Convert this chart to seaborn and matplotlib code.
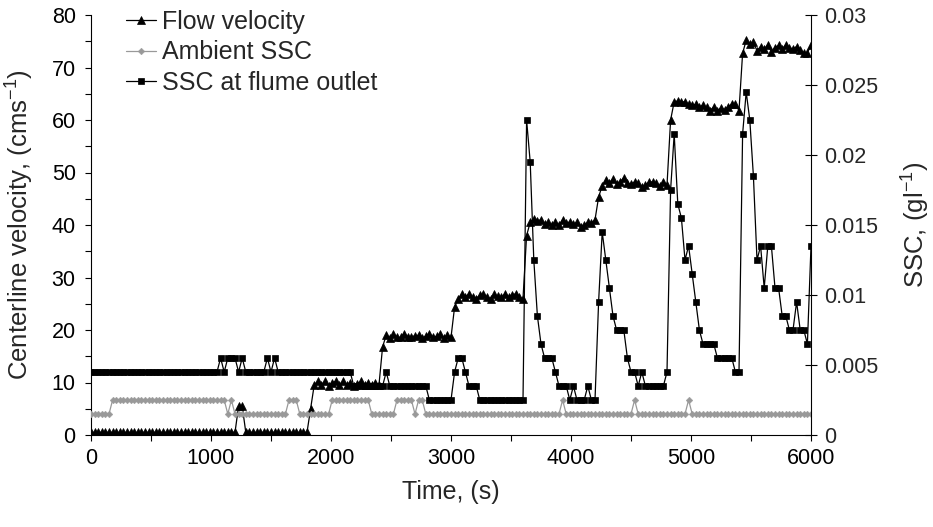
import numpy as np
import pandas as pd
import matplotlib
matplotlib.use("Agg")
import matplotlib.pyplot as plt
import seaborn as sns
from matplotlib.ticker import MultipleLocator, FuncFormatter

time_s = list(range(0, 6001, 30))

velocity = [
    0.5, 0.5, 0.5, 0.5, 0.5, 0.5, 0.5, 0.5, 0.5, 0.5, 0.5, 0.5, 0.5, 0.5, 0.5, 0.5, 0.5, 0.5, 0.5, 0.5,
    0.5, 0.5, 0.5, 0.5, 0.5, 0.5, 0.5, 0.5, 0.5, 0.5, 0.5, 0.5, 0.5, 0.5, 0.5, 0.5, 0.5, 0.5, 0.5, 0.5,
    0.5, 5.5, 5.5, 0.5,
    0.5, 0.5, 0.5, 0.5, 0.5, 0.5, 0.5, 0.5, 0.5, 0.5, 0.5, 0.5, 0.5, 0.5, 0.5, 0.5, 0.5,
    5.0, 9.5,
    10.2, 9.6, 10.2, 9.4, 10.0, 10.2, 9.5, 10.2, 9.6, 10.0, 9.4, 9.8, 10.2, 9.6, 10.0, 9.5, 10.0, 9.6,
    16.8,
    19.0, 18.5, 19.2, 18.6, 18.6, 19.3, 18.7, 18.7, 18.9, 19.0, 18.5, 18.8, 19.3, 18.6, 18.8, 19.2, 18.5, 19.0, 18.6,
    24.4,
    26.0, 26.8, 26.3, 26.9, 26.2, 26.0, 26.6, 26.9, 26.2, 26.0, 26.8, 26.4, 26.2, 26.9, 26.3, 26.7, 26.9, 26.2, 26.0,
    38.0,
    40.5, 41.2, 40.8, 41.0, 40.2, 40.5, 40.0, 40.5, 40.0, 41.0, 40.3, 40.6, 40.2, 40.5, 39.6, 40.0, 40.5, 40.3, 41.0,
    45.3,
    47.5, 48.5, 48.0, 48.8, 47.8, 48.2, 49.0, 48.0, 47.8, 48.2, 48.0, 47.2, 47.6, 48.2, 48.2, 48.0, 47.5, 48.2, 47.6,
    60.0,
    63.5, 63.6, 63.4, 63.5, 63.0, 62.8, 63.0, 62.5, 62.8, 62.4, 61.8, 62.5, 61.8, 62.3, 62.0, 62.5, 63.0, 63.0, 61.8,
    72.7,
    75.2, 74.5, 74.8, 73.2, 74.0, 73.5, 74.3, 73.0, 73.8, 74.2, 73.5, 74.3, 73.8, 73.5, 74.0, 73.3, 72.8, 72.8, 74.3,
]

ambient_ssc = (
    [0.0015] * 6 + [0.0025] * 32 + [0.0015, 0.0025] + [0.0015] * 15 + [0.0025] * 3
    + [0.0015] * 9 + [0.0025] * 11 + [0.0015] * 7 + [0.0025] * 5 + [0.0015] + [0.0025] * 2
    + [0.0015] * 38 + [0.0025] + [0.0015] * 19 + [0.0025] + [0.0015] * 14 + [0.0025]
    + [0.0015] * 34
)

outlet_ssc = [
    0.0045, 0.0045, 0.0045, 0.0045, 0.0045, 0.0045, 0.0045, 0.0045, 0.0045, 0.0045, 0.0045, 0.0045,
    0.0045, 0.0045, 0.0045, 0.0045, 0.0045, 0.0045, 0.0045, 0.0045, 0.0045, 0.0045, 0.0045, 0.0045,
    0.0045, 0.0045, 0.0045, 0.0045, 0.0045, 0.0045, 0.0045, 0.0045, 0.0045, 0.0045, 0.0045, 0.0045,
    0.0055, 0.0045, 0.0055, 0.0055, 0.0055, 0.0045, 0.0055, 0.0045,
    0.0045, 0.0045, 0.0045, 0.0045, 0.0045,
    0.0055, 0.0045, 0.0055,
    0.0045, 0.0045, 0.0045, 0.0045, 0.0045, 0.0045, 0.0045, 0.0045, 0.0045, 0.0045, 0.0045,
    0.0045, 0.0045, 0.0045, 0.0045, 0.0045, 0.0045, 0.0045, 0.0045, 0.0045, 0.0045,
    0.0035, 0.0035, 0.0035, 0.0035, 0.0035, 0.0035, 0.0035, 0.0035,
    0.0035, 0.0045,
    0.0035, 0.0035, 0.0035, 0.0035, 0.0035, 0.0035, 0.0035, 0.0035, 0.0035, 0.0035, 0.0035,
    0.0025, 0.0025, 0.0025, 0.0025, 0.0025, 0.0025, 0.0025,
    0.0045, 0.0055, 0.0055, 0.0045, 0.0035, 0.0035, 0.0035,
    0.0025, 0.0025, 0.0025, 0.0025, 0.0025, 0.0025, 0.0025, 0.0025, 0.0025, 0.0025, 0.0025, 0.0025, 0.0025,
    0.0225, 0.0195, 0.0125, 0.0085, 0.0065, 0.0055, 0.0055, 0.0055, 0.0045,
    0.0035, 0.0035, 0.0035, 0.0025, 0.0035, 0.0025, 0.0025, 0.0025, 0.0035, 0.0025, 0.0025,
    0.0095, 0.0145, 0.0125, 0.0105, 0.0085, 0.0075, 0.0075, 0.0075, 0.0055, 0.0045, 0.0045,
    0.0035, 0.0045, 0.0035, 0.0035, 0.0035, 0.0035, 0.0035, 0.0035, 0.0045,
    0.0175, 0.0215, 0.0165, 0.0155, 0.0125, 0.0135, 0.0115, 0.0095, 0.0075,
    0.0065, 0.0065, 0.0065, 0.0065, 0.0055, 0.0055, 0.0055, 0.0055, 0.0055, 0.0045, 0.0045,
    0.0215, 0.0245, 0.0225, 0.0185, 0.0125, 0.0135, 0.0105, 0.0135, 0.0135, 0.0105, 0.0105,
    0.0085, 0.0085, 0.0075, 0.0075, 0.0095, 0.0075, 0.0075, 0.0065, 0.0135,
]

assert len(velocity) == len(time_s), len(velocity)
assert len(ambient_ssc) == len(time_s), len(ambient_ssc)
assert len(outlet_ssc) == len(time_s), len(outlet_ssc)

df = pd.DataFrame({"time": time_s, "velocity": velocity,
                   "ambient": ambient_ssc, "outlet": outlet_ssc})

sns.set_style("ticks")
plt.rcParams["font.family"] = ["Liberation Sans", "DejaVu Sans"]
plt.rcParams["mathtext.fontset"] = "custom"
plt.rcParams["mathtext.rm"] = "Liberation Sans"
plt.rcParams["mathtext.it"] = "Liberation Sans:italic"

fig = plt.figure(figsize=(9.33, 5.27), dpi=100)
ax = fig.add_axes([91 / 933, 1 - 435 / 527, 720 / 933, 420 / 527])
ax2 = ax.twinx()

sns.lineplot(data=df, x="time", y="velocity", ax=ax, color="black", marker="^",
             markersize=5.5, markeredgecolor="black", markeredgewidth=0.5,
             linewidth=0.9, label="Flow velocity", legend=False, zorder=3)
sns.lineplot(data=df, x="time", y="ambient", ax=ax2, color="#999999", marker="D",
             markersize=3.4, markeredgecolor="#999999", markeredgewidth=0.3,
             linewidth=0.9, label="Ambient SSC", legend=False, zorder=2)
sns.lineplot(data=df, x="time", y="outlet", ax=ax2, color="black", marker="s",
             markersize=5, markeredgecolor="black", markeredgewidth=0.5,
             linewidth=0.9, label="SSC at flume outlet", legend=False, zorder=3)

ax.set_xlim(0, 6000)
ax.set_ylim(0, 80)
ax2.set_ylim(0, 0.03)

ax.xaxis.set_major_locator(MultipleLocator(1000))
ax.xaxis.set_minor_locator(MultipleLocator(500))
ax.yaxis.set_major_locator(MultipleLocator(10))
ax.yaxis.set_minor_locator(MultipleLocator(5))
ax2.yaxis.set_major_locator(MultipleLocator(0.005))
ax2.yaxis.set_major_formatter(FuncFormatter(lambda v, p: "%g" % round(v, 4)))

ax.tick_params(axis="both", which="both", direction="out", length=4,
               width=0.8, color="black", labelsize=15.5, labelcolor="black")
ax.tick_params(axis="x", which="major", pad=5)
ax.tick_params(axis="y", which="major", pad=7)
ax2.tick_params(axis="y", which="major", direction="inout", length=9,
                width=0.8, color="black", labelsize=15.5, pad=5)

for a in (ax, ax2):
    a.spines["top"].set_visible(False)
    for s in ("left", "right", "bottom"):
        a.spines[s].set_color("black")
        a.spines[s].set_linewidth(0.8)
ax.spines["right"].set_visible(False)
ax2.spines["left"].set_visible(False)
ax2.spines["bottom"].set_visible(False)

ax.set_xlabel("Time, (s)", fontsize=18, labelpad=8)
ax.set_ylabel("Centerline velocity, (cms$^{-1}$)", fontsize=18.5)
ax2.set_ylabel("SSC, (gl$^{-1}$)", fontsize=18.5)
ax.yaxis.set_label_coords(-0.076, 0.5)
ax2.yaxis.set_label_coords(1.124, 0.5)

h1, l1 = ax.get_legend_handles_labels()
h2, l2 = ax2.get_legend_handles_labels()
leg = ax2.legend(h1 + h2, l1 + l2, loc="upper left",
                 bbox_to_anchor=(126 / 933, 1 - 10 / 527),
                 bbox_transform=fig.transFigure, frameon=False,
                 fontsize=18, borderpad=0, borderaxespad=0, labelspacing=0.25,
                 handlelength=1.2, handletextpad=0.25)

fig.savefig("out.png", dpi=100)
